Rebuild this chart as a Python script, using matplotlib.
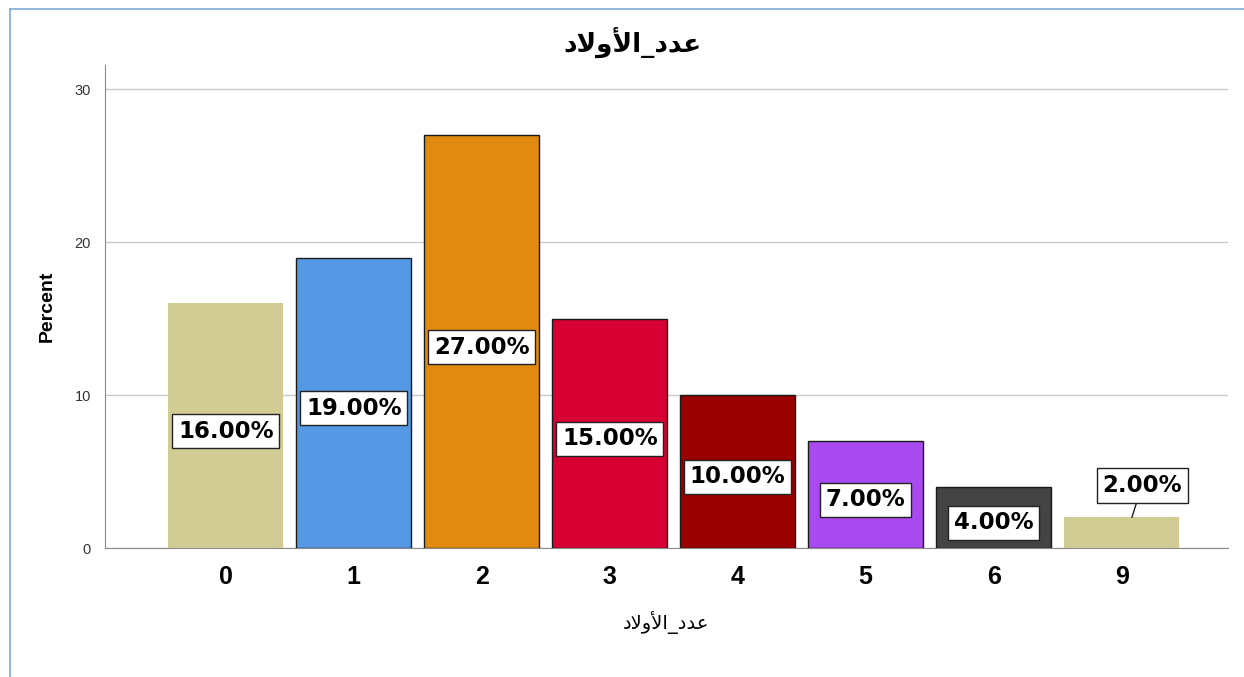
import matplotlib.pyplot as plt
from matplotlib.lines import Line2D

categories = ['0', '1', '2', '3', '4', '5', '6', '9']
percents = [16.0, 19.0, 27.0, 15.0, 10.0, 7.0, 4.0, 2.0]
colors = ['#D0CC93', '#5598E4', '#E08A10', '#D60033', '#9B0000', '#A94AF0', '#444444', '#D0CC93']
edges = [False, True, True, True, True, True, True, False]

# "عدد_الأولاد" written with Arabic presentation forms in visual order,
# because matplotlib does no Arabic shaping / bidi itself
title_ar = '\uFEA9\uFEFB\uFEED\uFEF7\uFE8D_\uFEA9\uFEAA\uFECB'

plt.rcParams['font.family'] = ['Liberation Sans', 'DejaVu Sans']

fig = plt.figure(figsize=(12.44, 6.77), dpi=100)
ax = fig.add_axes([0.0844, 0.1905, 0.9026, 0.7135])

pos = list(range(len(categories)))
for i in pos:
    ax.bar(i, percents[i], width=0.9, color=colors[i],
           edgecolor='#1a1a1a' if edges[i] else colors[i],
           linewidth=1.0 if edges[i] else 0, zorder=3)

box = dict(boxstyle='square,pad=0.25', fc='white', ec='#222222', lw=1)
lab_font = dict(fontsize=16.5, fontweight='bold', family=['DejaVu Sans'])
for i in pos[:-1]:
    ax.text(i, percents[i] / 2 - 0.35, '%.2f%%' % percents[i], ha='center', va='center',
            bbox=box, zorder=5, **lab_font)
# small last bar: label above with a leader line
i = pos[-1]
ax.annotate('%.2f%%' % percents[i], xy=(i + 0.08, percents[i]), xytext=(i + 0.16, percents[i] + 2.1),
            ha='center', va='center', bbox=box, zorder=5, **lab_font,
            arrowprops=dict(arrowstyle='-', color='#222222', lw=1, shrinkA=0, shrinkB=0))

ax.set_xlim(-0.945, 7.83)
ax.set_ylim(0, 31.6)
ax.set_yticks([0, 10, 20, 30])
ax.set_xticks(pos)
ax.set_xticklabels(categories, fontsize=18, fontweight='bold')
ax.tick_params(axis='x', length=0, pad=12)
ax.tick_params(axis='y', length=0, pad=10, labelsize=10.5, labelcolor='#333333')
ax.yaxis.grid(True, color='#c8c8c8', lw=1, zorder=0)
ax.set_axisbelow(True)

for s in ['top', 'right']:
    ax.spines[s].set_visible(False)
ax.spines['left'].set_color('#8a8a8a')
ax.spines['bottom'].set_color('#8a8a8a')

ax.set_ylabel('Percent', fontsize=14, fontweight='bold', labelpad=14)
ax.set_xlabel(title_ar, fontsize=14, labelpad=16, family=['DejaVu Sans'])
fig.text(0.508, 0.938, title_ar, ha='center', va='center', fontsize=19, fontweight='bold',
         family=['DejaVu Sans'])

# thin blue frame at the left and top of the picture
fig.add_artist(Line2D([0.008, 0.008], [0, 0.986], transform=fig.transFigure, color='#7fa7d8', lw=1.2))
fig.add_artist(Line2D([0.008, 1.0], [0.986, 0.986], transform=fig.transFigure, color='#7fa7d8', lw=1.2))

fig.savefig('out.png', dpi=100)
